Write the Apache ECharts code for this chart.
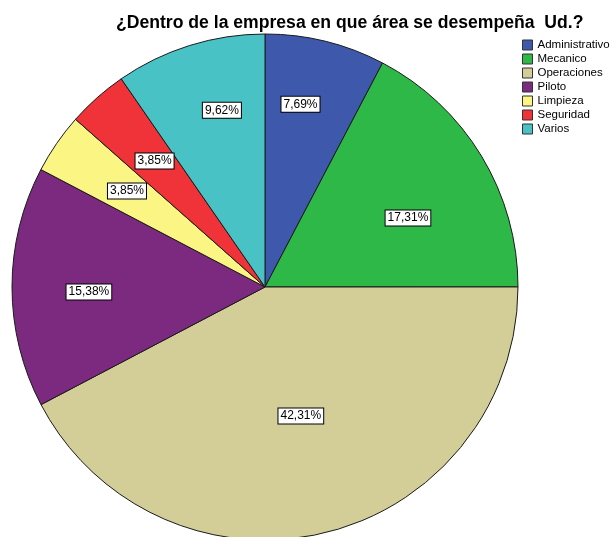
<!DOCTYPE html>
<html>
<head>
<meta charset="utf-8">
<script src="https://cdn.jsdelivr.net/npm/echarts@6/dist/echarts.min.js"></script>
<style>
  html, body { margin: 0; padding: 0; background: #fff; }
  #chart { width: 612px; height: 537px; }
</style>
</head>
<body>
<div id="chart"></div>
<script>
// Área de trabajo dentro de la empresa (porcentajes)
const categories = ['Administrativo', 'Mecanico', 'Operaciones', 'Piloto', 'Limpieza', 'Seguridad', 'Varios'];
const percentages = [7.69, 17.31, 42.31, 15.38, 3.85, 3.85, 9.62];
const titleText = '¿Dentro de la empresa en que área se desempeña  Ud.?';

// Styling
const sliceColors = ['#3E58AC', '#2EB848', '#D3CE97', '#7B2A7F', '#FBF583', '#EF3338', '#48C2C5'];
const labelRadiusFraction = [0.74, 0.63, 0.53, 0.70, 0.67, 0.67, 0.72];
const labelNudge = [[-10, 2], [4, 15], [3, -4], [4, 5], [4, 2], [4, 3], [12, 0]];
const pieCenter = [265, 287];
const pieRadius = 253;

const fmt = v => v.toFixed(2).replace('.', ',') + '%';

const baseData = categories.map((name, i) => ({
  name,
  value: percentages[i],
  itemStyle: { color: sliceColors[i] }
}));

const series = [{
  type: 'pie',
  center: pieCenter,
  radius: pieRadius,
  startAngle: 90,
  clockwise: true,
  avoidLabelOverlap: false,
  silent: true,
  label: { show: false },
  labelLine: { show: false },
  itemStyle: { borderColor: '#1a1a1a', borderWidth: 1 },
  data: baseData
}];

// One transparent overlay per slice carries that slice's value label at its own radial distance
categories.forEach((name, idx) => {
  const d = labelRadiusFraction[idx] * pieRadius;
  series.push({
    type: 'pie',
    center: pieCenter,
    radius: [0, 2 * d],
    startAngle: 90,
    clockwise: true,
    silent: true,
    avoidLabelOverlap: false,
    legendHoverLink: false,
    itemStyle: { color: 'rgba(0,0,0,0)', borderWidth: 0 },
    labelLine: { show: false },
    label: { show: false },
    labelLayout: () => ({ dx: labelNudge[idx][0], dy: labelNudge[idx][1] }),
    data: categories.map((n, i) => ({
      name: n,
      value: percentages[i],
      itemStyle: { color: 'rgba(0,0,0,0)' },
      label: i === idx ? {
        show: true,
        position: 'inside',
        formatter: () => fmt(percentages[i]),
        fontFamily: 'Liberation Sans, Arial, sans-serif',
        fontSize: 12,
        lineHeight: 14,
        color: '#000',
        backgroundColor: '#fff',
        borderColor: '#000',
        borderWidth: 1,
        padding: [1, 2, 0, 2]
      } : { show: false }
    }))
  });
});

const chart = echarts.init(document.getElementById('chart'), null, { renderer: 'canvas' });
chart.setOption({
  animation: false,
  backgroundColor: '#fff',
  title: {
    text: titleText,
    left: 111,
    top: 9,
    textStyle: {
      fontFamily: 'Liberation Sans, Arial, sans-serif',
      fontSize: 17.6,
      fontWeight: 'bold',
      color: '#000'
    }
  },
  legend: {
    orient: 'vertical',
    left: 522,
    top: 39,
    padding: 0,
    itemWidth: 10,
    itemHeight: 10,
    itemGap: 2,
    icon: 'rect',
    selectedMode: false,
    data: categories,
    itemStyle: { borderColor: '#333', borderWidth: 1 },
    textStyle: {
      fontFamily: 'Liberation Sans, Arial, sans-serif',
      fontSize: 11.5,
      color: '#000',
      padding: [0, 0, 0, 0]
    }
  },
  series
});
</script>
</body>
</html>
